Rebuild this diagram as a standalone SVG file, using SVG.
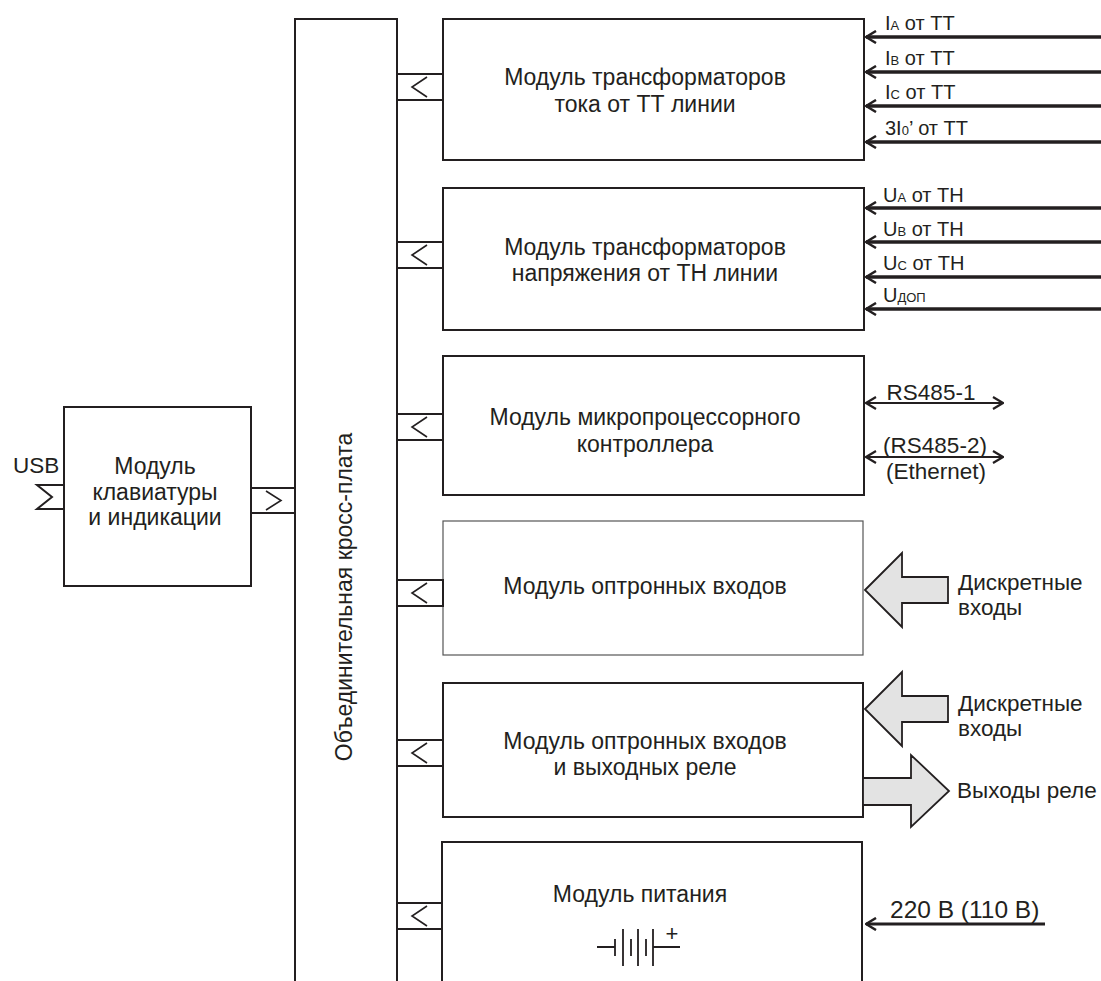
<svg xmlns="http://www.w3.org/2000/svg" width="1101" height="981" viewBox="0 0 1101 981">
<style>
.box{fill:#fff;stroke:#231f20;stroke-width:2}
.thin{fill:#fff;stroke:#555;stroke-width:1.2}
.conn{fill:#fff;stroke:#231f20;stroke-width:2}
.chev{fill:none;stroke:#231f20;stroke-width:1.6}
.t{font-family:"Liberation Sans",Arial,sans-serif;font-size:23px;fill:#231f20}
.m{text-anchor:middle}
.l{font-family:"Liberation Sans",Arial,sans-serif;font-size:20px;fill:#231f20}
.r{font-family:"Liberation Sans",Arial,sans-serif;font-size:22.5px;fill:#231f20}
.s{font-size:13px}
.in{fill:none;stroke:#231f20;stroke-width:3.5;marker-end:url(#ah)}
.bi{fill:none;stroke:#231f20;stroke-width:2.2;marker-start:url(#ah2);marker-end:url(#ah2)}
.big{fill:#e3e3e3;stroke:#231f20;stroke-width:1.8}
.bat{stroke:#231f20;stroke-width:1.8;fill:none}
</style>
<defs>
<marker id="ah" viewBox="0 0 12 14" refX="11" refY="7" markerWidth="12" markerHeight="14" markerUnits="userSpaceOnUse" orient="auto"><path d="M1,1 L11,7 L1,13" fill="none" stroke="#231f20" stroke-width="2.5"/></marker>
<marker id="ah2" viewBox="0 0 12 14" refX="11" refY="7" markerWidth="12" markerHeight="14" markerUnits="userSpaceOnUse" orient="auto-start-reverse"><path d="M1,1 L11,7 L1,13" fill="none" stroke="#231f20" stroke-width="2.2"/></marker>
</defs>
<rect width="1101" height="981" fill="#fff"/>

<g id="crossboard">
<path d="M295,981 V19 H397 V981" class="box"/>
<text class="t m" transform="translate(352,597) rotate(-90)">Объединительная кросс-плата</text>
</g>

<g id="keyboard">
<rect x="64" y="407" width="187" height="179" class="box"/>
<text class="t m" x="155" y="474">Модуль</text>
<text class="t m" x="155" y="500">клавиатуры</text>
<text class="t m" x="155" y="525">и индикации</text>
<path d="M64,485 H37 L52,497 L37,509 H64" class="chev" style="stroke-width:2"/>
<text class="r" x="13" y="473">USB</text>
<rect x="251" y="488" width="44" height="25" class="conn"/>
<path d="M266,491 L281,500.5 L266,510" class="chev"/>
</g>

<g id="mod1">
<rect x="443" y="19" width="421" height="141" class="box"/>
<text class="t m" x="645" y="85">Модуль трансформаторов</text>
<text class="t m" x="645" y="112">тока от ТТ линии</text>
<rect x="397" y="74" width="46" height="26" class="conn"/>
<path d="M427,77 L412,87 L427,97" class="chev"/>
</g>

<g id="mod2">
<rect x="443" y="188" width="421" height="142" class="box"/>
<text class="t m" x="645" y="255">Модуль трансформаторов</text>
<text class="t m" x="645" y="281">напряжения от ТН линии</text>
<rect x="397" y="242" width="46" height="26" class="conn"/>
<path d="M427,245 L412,255 L427,265" class="chev"/>
</g>

<g id="mod3">
<rect x="443" y="356" width="421" height="139" class="box"/>
<text class="t m" x="645" y="425">Модуль микропроцессорного</text>
<text class="t m" x="645" y="452">контроллера</text>
<rect x="397" y="414" width="46" height="26" class="conn"/>
<path d="M427,417 L412,427 L427,437" class="chev"/>
</g>

<g id="mod4">
<rect x="443" y="521" width="420" height="134" class="thin"/>
<text class="t m" x="645" y="594">Модуль оптронных входов</text>
<rect x="397" y="580" width="46" height="26" class="conn"/>
<path d="M427,583 L412,593 L427,603" class="chev"/>
</g>

<g id="mod5">
<rect x="443" y="683" width="420" height="134" class="box"/>
<text class="t m" x="645" y="749">Модуль оптронных входов</text>
<text class="t m" x="645" y="775">и выходных реле</text>
<rect x="397" y="740" width="46" height="26" class="conn"/>
<path d="M427,743 L412,753 L427,763" class="chev"/>
</g>

<g id="mod6">
<path d="M442,981 V842 H862 V981" class="box"/>
<text class="t m" x="640" y="902">Модуль питания</text>
<rect x="397" y="903" width="45" height="26" class="conn"/>
<path d="M427,906 L412,916 L427,926" class="chev"/>
<g class="bat">
<path d="M597,947 H615 M615,939 V956 M623,929 V966 M631,939 V956 M638,929 V966 M646,939 V956 M653,929 V966 M653,947 H680"/>
</g>
<text class="l" x="672" y="941" style="font-size:22px" text-anchor="middle">+</text>
</g>

<g id="connectors">
<path d="M1101,37 H866" class="in"/>
<path d="M1101,72 H866" class="in"/>
<path d="M1101,106 H866" class="in"/>
<path d="M1101,142 H866" class="in"/>
<path d="M1101,208 H866" class="in"/>
<path d="M1101,242 H866" class="in"/>
<path d="M1101,277 H866" class="in"/>
<path d="M1101,309 H866" class="in"/>
<path d="M866,403 H1003" class="bi"/>
<path d="M866,457 H1003" class="bi"/>
<path d="M1045,924 H866" class="in" style="stroke-width:3"/>
<path d="M865,590 L902,553 V577 H948 V603 H902 V627 Z" class="big"/>
<path d="M865,709 L902,672 V696 H948 V722 H902 V746 Z" class="big"/>
<path d="M863,778 H911 V755 L949,791 L911,827 V805 H863 Z" class="big"/>
</g>

<g id="labels">
<text class="l" x="885" y="30">I<tspan class="s">A</tspan> от ТТ</text>
<text class="l" x="885" y="65">I<tspan class="s">B</tspan> от ТТ</text>
<text class="l" x="885" y="99">I<tspan class="s">C</tspan> от ТТ</text>
<text class="l" x="885" y="135">3I<tspan class="s">0</tspan>’ от ТТ</text>
<text class="l" x="883" y="202">U<tspan class="s">A</tspan> от ТН</text>
<text class="l" x="883" y="236">U<tspan class="s">B</tspan> от ТН</text>
<text class="l" x="883" y="270">U<tspan class="s">C</tspan> от ТН</text>
<text class="l" x="883" y="302">U<tspan class="s">ДОП</tspan></text>
<text class="r" x="931" y="400" text-anchor="middle">RS485-1</text>
<text class="r" x="935" y="453" text-anchor="middle">(RS485-2)</text>
<text class="r" x="936" y="479" text-anchor="middle">(Ethernet)</text>
<text class="r" x="958" y="590">Дискретные</text>
<text class="r" x="958" y="615">входы</text>
<text class="r" x="958" y="711">Дискретные</text>
<text class="r" x="958" y="736">входы</text>
<text class="r" x="957" y="798">Выходы реле</text>
<text class="r" x="890" y="918" style="font-size:24.5px">220 В (110 В)</text>
</g>
</svg>
